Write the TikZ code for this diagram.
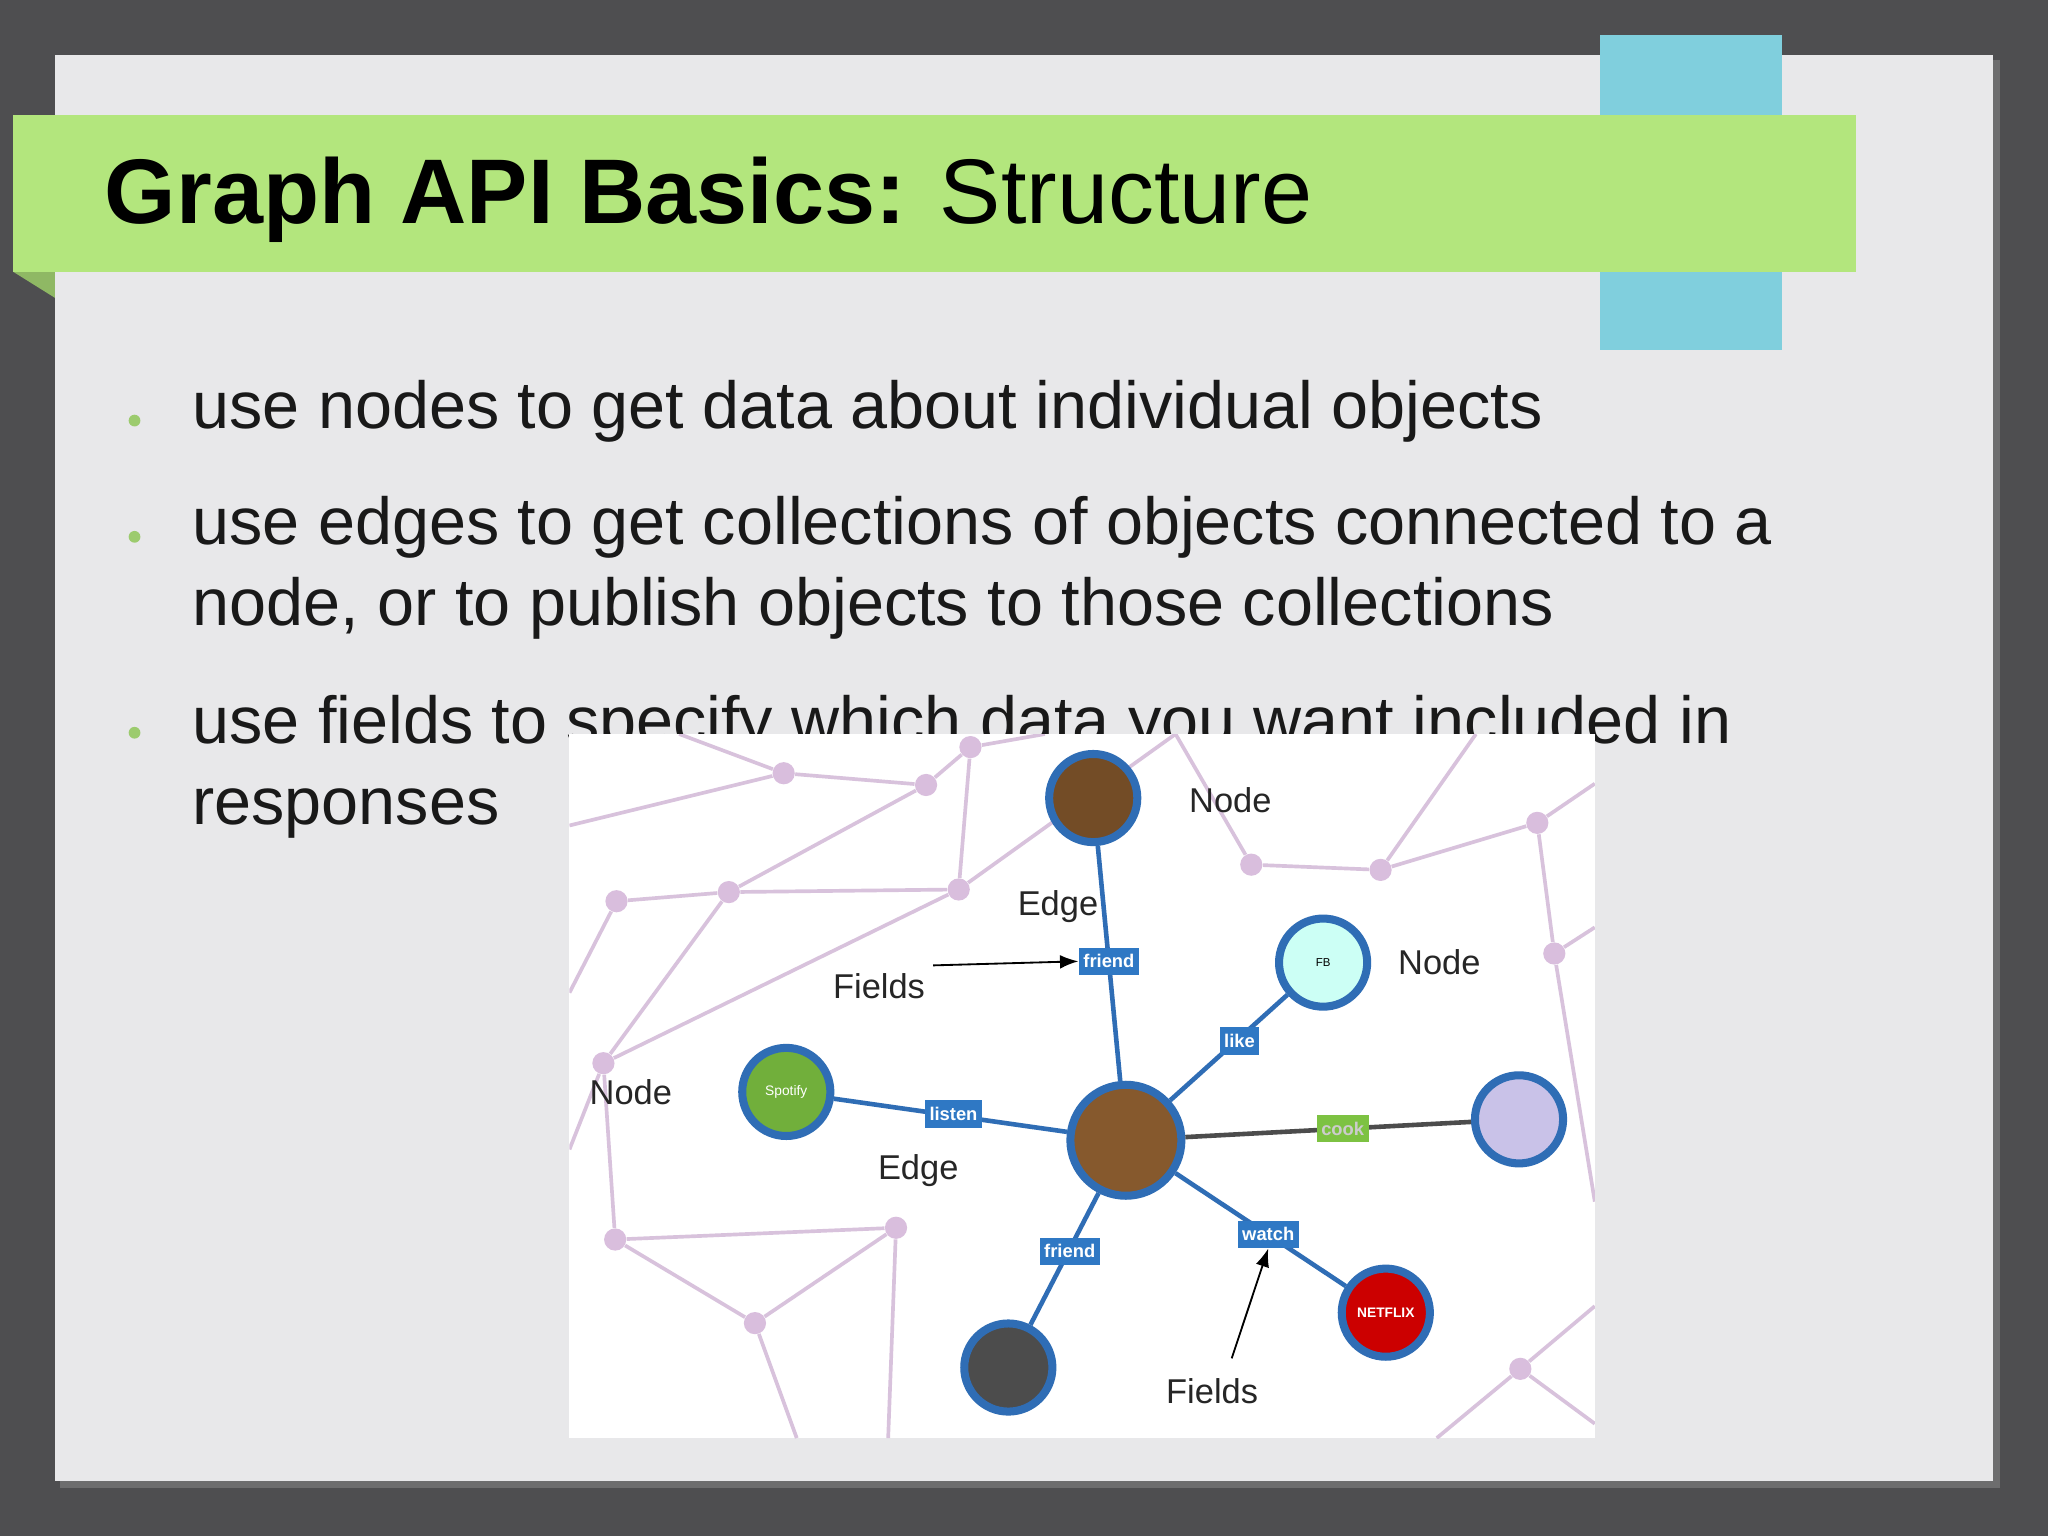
\documentclass[tikz,border=0pt]{standalone}
\usepackage{fontspec}
\setmainfont{Liberation Sans}
\usetikzlibrary{arrows.meta}
\definecolor{bgd}{HTML}{4E4E50}
\definecolor{slide}{HTML}{E8E8EA}
\definecolor{cyanb}{HTML}{80CFDD}
\definecolor{greenb}{HTML}{B3E67D}
\definecolor{bul}{HTML}{9CCB6E}
\definecolor{pur}{HTML}{D8C2DC}
\definecolor{pdot}{HTML}{D9BEDD}
\definecolor{eblue}{HTML}{2F6DB5}
\definecolor{lblue}{HTML}{2F78C4}
\definecolor{cookg}{HTML}{7DC242}
\tikzset{
  pl/.style={draw=pur,line width=1.6pt},
  pd/.style={circle,fill=pdot,inner sep=0pt,minimum size=0.34cm},
  be/.style={draw=eblue,line width=2pt},
  ring/.style={circle,draw=eblue,line width=3.5pt,minimum size=#1,inner sep=0pt},
  lab/.style={fill=lblue,text=white,font=\fontsize{8}{9}\selectfont\bfseries,inner sep=2pt,minimum height=0.42cm},
  gl/.style={font=\fontsize{15}{17}\selectfont,text=black!85},
  bt/.style={anchor=base west,inner sep=0pt,font=\fontsize{29}{34}\selectfont,text=black!90},
  bd/.style={circle,fill=bul,inner sep=0pt,minimum size=0.18cm}
}
\begin{document}
\begin{tikzpicture}[x=0.02cm,y=-0.02cm]
\useasboundingbox (0,0) rectangle (1568,1176);
\fill[bgd] (0,0) rectangle (1568,1176);
\fill[black!45,opacity=0.5] (46,46) rectangle (1531,1139);
\fill[slide] (42,42) rectangle (1526,1134);
\fill[cyanb] (1225,27) rectangle (1364,268);
\fill[greenb!80!black] (10,208) -- (42,228) -- (42,208) -- cycle;
\fill[greenb] (10,88) rectangle (1421,208);
\node[anchor=base west,inner sep=0pt,font=\fontsize{40}{46}\selectfont] (title) at (80,171) {\textbf{Graph API Basics:} Structure};
\node[bd] (b1) at (103,322) {};
\node[bt] (t1) at (147,328) {use nodes to get data about individual objects};
\node[bd] (b2) at (103,411) {};
\node[bt] (t2) at (147,417) {use edges to get collections of objects connected to a};
\node[bt] (t2b) at (147,479) {node, or to publish objects to those collections};
\node[bd] (b3) at (103,561) {};
\node[bt] (t3) at (147,569) {use fields to specify which data you want included in};
\node[bt] (t3b) at (147,631) {responses};
% image panel
\fill[white] (436,562) rectangle (1221,1101);
\begin{scope}
\clip (436,562) rectangle (1221,1101);
\foreach \n/\x/\y in {p1/600/592,p2/709/601,p3/743/572,p4/472/690,p5/558/683,p6/734/681,p7/958/662,p8/1057/666,p9/1177/630,p10/1190/730,p11/462/814,p12/471/949,p13/686/940,p14/578/1013,p15/1164/1048}
  \node[pd] (\n) at (\x,\y) {};
\coordinate (e1) at (436,632); \coordinate (e2) at (520,562); \coordinate (e3) at (800,562);
\coordinate (e4) at (900,562); \coordinate (e5) at (1130,562); \coordinate (e6) at (1221,600);
\coordinate (e7) at (1221,710); \coordinate (e8) at (1221,920); \coordinate (e9) at (1221,1000);
\coordinate (e11) at (436,760); \coordinate (e12) at (610,1101);
\coordinate (e13) at (680,1101); \coordinate (e15) at (1100,1101);
\coordinate (e16) at (1221,1090); \coordinate (e17) at (436,880);
\draw[pl] (e1)--(p1)--(p2)--(p3)--(e3);
\draw[pl] (p1)--(e2);
\draw[pl] (p2)--(p5)--(p4)--(e11);
\draw[pl] (p5)--(p6)--(p3);
\draw[pl] (p6)--(e4);
\draw[pl] (p5)--(p11)--(p12)--(p13)--(p14)--(e12);
\draw[pl] (p11)--(p6);
\draw[pl] (p13)--(e13);
\draw[pl] (p14)--(p12);
\draw[pl] (e17)--(p11);
\draw[pl] (p7)--(p8)--(p9)--(e6);
\draw[pl] (p8)--(e5);
\draw[pl] (p9)--(p10)--(e7);
\draw[pl] (p10)--(e8);
\draw[pl] (p7)--(e4);
\draw[pl] (p15)--(e9);
\draw[pl] (p15)--(e15);
\draw[pl] (p15)--(e16);
\end{scope}
% main nodes
\node[ring=1.7cm,fill=brown!70!black] (c) at (862,873) {};
\node[ring=1.35cm,fill=brown!60!black] (top) at (837,611) {};
\node[ring=1.35cm,fill=cookg!90!black] (sp) at (602,836) {\color{white}\fontsize{6}{7}\selectfont Spotify};
\node[ring=1.35cm,fill=green!20!cyan!20] (fb) at (1013,737) {\fontsize{5}{6}\selectfont FB};
\node[ring=1.35cm,fill=brown!40!blue!30] (food) at (1163,857) {};
\node[ring=1.35cm,fill=red!80!black] (nf) at (1061,1005) {\color{white}\fontsize{6}{7}\selectfont\bfseries NETFLIX};
\node[ring=1.35cm,fill=black!70] (bot) at (772,1047) {};
\draw[be] (c)--(top);
\draw[be] (c)--(fb);
\draw[be] (c)--(sp);
\draw[be,draw=black!70] (c)--(food);
\draw[be] (c)--(nf);
\draw[be] (c)--(bot);
\node[lab] (lf1) at (849,736) {friend};
\node[lab] (llike) at (949,797) {like};
\node[lab] (llis) at (730,853) {listen};
\node[lab,fill=cookg,text=white!80!black] (lcook) at (1028,864) {cook};
\node[lab] (lw) at (971,945) {watch};
\node[lab] (lf2) at (819,958) {friend};
\node[gl] (n1) at (942,613) {Node};
\node[gl] (ed1) at (810,694) {Edge};
\node[gl] (f1) at (673,755) {Fields};
\node[gl] (n2) at (1102,737) {Node};
\node[gl] (n3) at (483,836) {Node};
\node[gl] (ed2) at (703,896) {Edge};
\node[gl] (f2) at (928,1065) {Fields};
\coordinate (fa) at (943,1040);
\draw[-{Latex[length=8pt]},line width=0.8pt] (f1.north east) -- (lf1.west);
\draw[-{Latex[length=8pt]},line width=0.8pt] (fa) -- (lw.south);
\end{tikzpicture}
\end{document}
